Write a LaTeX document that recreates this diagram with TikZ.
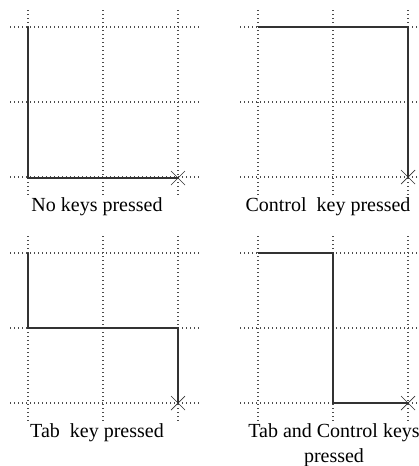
\documentclass[tikz,border=0pt]{standalone}
\usepackage{fontspec}
\setmainfont{Liberation Serif}
\begin{document}
\begin{tikzpicture}[x=1pt,y=-1pt,
  griddot/.style={line width=1.3pt,dash pattern=on 1.2pt off 2.8pt,black!70},
  trace/.style={line width=1.7pt,black!80,line join=miter},
  xmark/.style={line width=0.7pt,black!80},
  caption/.style={font=\fontsize{20}{25}\selectfont,align=center,inner sep=0pt}]
\useasboundingbox (0,0) rectangle (419,466);
% grids
\foreach \ox/\oy in {28/27,258/27,28/253,258/253}{
  \begin{scope}[shift={(\ox,\oy)}]
    \foreach \k in {0,75,150}{
      \draw[griddot] (\k,-17) -- (\k,168);
      \draw[griddot] (-18,\k) -- (171,\k);
    }
  \end{scope}
}
% panel 1
\coordinate (a1) at (28,27); \coordinate (a2) at (28,178); \coordinate (a3) at (178,178);
\draw[trace] (a1) -- (a2) -- (a3);
\draw[xmark] ([shift={(-7,-7)}]a3) -- ([shift={(7,7)}]a3) ([shift={(-7,7)}]a3) -- ([shift={(7,-7)}]a3);
\node[caption] (c1) at (97,207) {No keys pressed};
% panel 2
\coordinate (b1) at (258,27); \coordinate (b2) at (408,27); \coordinate (b3) at (408,177);
\draw[trace] (b1) -- (b2) -- (b3);
\draw[xmark] ([shift={(-7,-7)}]b3) -- ([shift={(7,7)}]b3) ([shift={(-7,7)}]b3) -- ([shift={(7,-7)}]b3);
\node[caption] (c2) at (328,207) {Control\ \ key pressed};
% panel 3
\coordinate (d1) at (28,253); \coordinate (d2) at (28,328); \coordinate (d3) at (178,328); \coordinate (d4) at (178,403);
\draw[trace] (d1) -- (d2) -- (d3) -- (d4);
\draw[xmark] ([shift={(-7,-7)}]d4) -- ([shift={(7,7)}]d4) ([shift={(-7,7)}]d4) -- ([shift={(7,-7)}]d4);
\node[caption] (c3) at (97,433) {Tab\ \ key pressed};
% panel 4
\coordinate (e1) at (258,253); \coordinate (e2) at (333,253); \coordinate (e3) at (333,403); \coordinate (e4) at (408,403);
\draw[trace] (e1) -- (e2) -- (e3) -- (e4);
\draw[xmark] ([shift={(-7,-7)}]e4) -- ([shift={(7,7)}]e4) ([shift={(-7,7)}]e4) -- ([shift={(7,-7)}]e4);
\node[caption,anchor=north] (c4) at (334,423) {Tab and Control keys\\pressed};
\end{tikzpicture}
\end{document}
